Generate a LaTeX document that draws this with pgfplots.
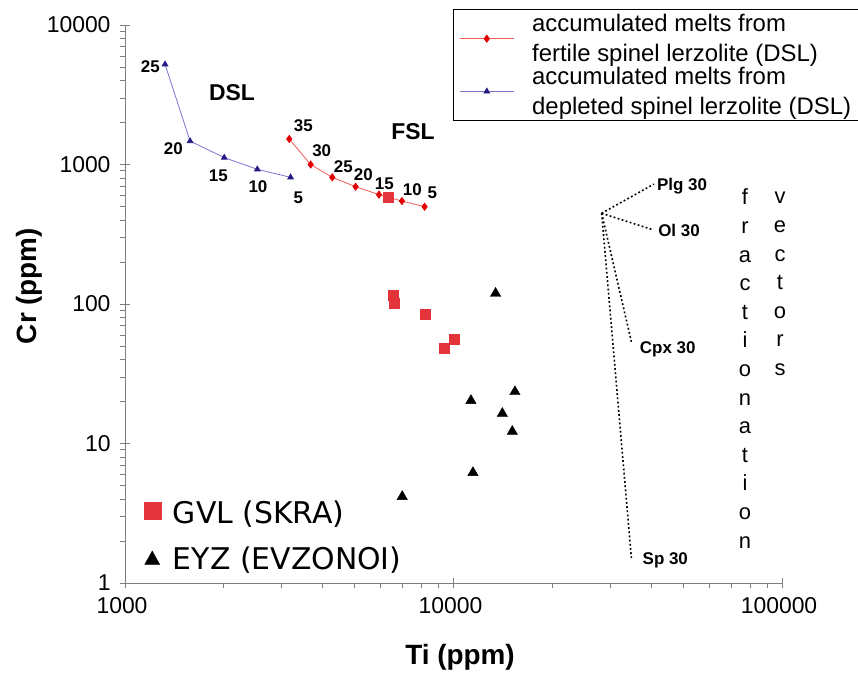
\documentclass[border=0pt]{standalone}
\usepackage{pgfplots}
\pgfplotsset{compat=1.18}
\usepackage{fontspec}
\setmainfont{Liberation Sans}
\newfontfamily\djv{DejaVu Sans}
\definecolor{fslred}{RGB}{228,0,0}
\definecolor{fslline}{RGB}{240,90,90}
\definecolor{dslblue}{RGB}{35,25,135}
\definecolor{dslline}{RGB}{125,115,205}
\definecolor{gvlred}{RGB}{226,52,58}
\definecolor{axgray}{RGB}{125,125,125}
\begin{document}
\begin{tikzpicture}[x=1bp,y=1bp]
\path[use as bounding box] (-125,-92) rectangle (733,583);
\begin{axis}[
  at={(0,0)}, anchor=south west,
  scale only axis, width=657bp, height=558bp,
  xmode=log, ymode=log,
  xmin=1000, xmax=100000, ymin=1, ymax=10000,
  axis lines=left, axis line style={-, draw=axgray, line width=0.8bp},
  xtick={1000,10000,100000}, xticklabels={1000,10000,100000},
  minor xtick={2000,3000,4000,5000,6000,7000,8000,9000,20000,30000,40000,50000,60000,70000,80000,90000},
  ytick={1,10,100,1000,10000}, yticklabels={1,10,100,1000,10000},
  minor ytick={2,3,4,5,6,7,8,9,20,30,40,50,60,70,80,90,200,300,400,500,600,700,800,900,2000,3000,4000,5000,6000,7000,8000,9000},
  extra x ticks={1000,10000,100000}, extra x tick labels={},
  extra y ticks={1,10,100,1000,10000}, extra y tick labels={},
  extra tick style={tick align=inside, major tick length=5bp},
  tick align=outside, major tick length=5bp, minor tick length=5bp,
  every tick/.style={axgray, line width=0.8bp},
  tick label style={font=\fontsize{23}{27}\selectfont},
  xticklabel style={yshift=-6bp, xshift=-3bp},
  yticklabel style={xshift=-6bp},
  /pgf/number format/assume math mode=true,
  clip=false,
  legend cell align=left,
  legend style={at={(0.4992,1.0287)}, anchor=north west, draw=black, line width=0.8bp,
    font=\fontsize{24}{30}\selectfont, cells={align=left}, inner xsep=6bp, inner ysep=3bp, row sep=0pt, column sep=16bp},
  legend image code/.code={\draw[mark repeat=2,mark phase=2,#1] plot coordinates {(0bp,0bp) (27bp,0bp) (54bp,0bp)};},
]
\addplot[color=fslline, line width=0.8bp, mark=diamond*, mark size=3.5bp, mark options={fill=fslred, draw=fslred}] coordinates {
(3162,1524) (3674,1000) (4275,809) (5036,693) (5932,608) (6968,547) (8166,498)};
\addlegendentry{accumulated melts from\\fertile spinel lerzolite (DSL)}
\addplot[color=dslline, line width=0.8bp, mark=triangle*, mark size=3.2bp, mark options={fill=dslblue, draw=dslblue}] coordinates {
(1324,5224) (1578,1472) (2005,1120) (2528,924) (3192,809)};
\addlegendentry{accumulated melts from\\depleted spinel lerzolite (DSL)}
\addplot[black, line width=1.6bp, dash pattern=on 1.8bp off 2.4bp, forget plot] coordinates {(28250,447) (40740,724)};
\addplot[black, line width=1.6bp, dash pattern=on 1.8bp off 2.4bp, forget plot] coordinates {(28250,447) (40070,343)};
\addplot[black, line width=1.6bp, dash pattern=on 1.8bp off 2.4bp, forget plot] coordinates {(28250,447) (34840,52.9)};
\addplot[black, line width=1.6bp, dash pattern=on 1.8bp off 2.4bp, forget plot] coordinates {(28250,447) (34840,1.46)};
\end{axis}
\begin{axis}[
  at={(0,0)}, anchor=south west,
  scale only axis, width=657bp, height=558bp,
  xmode=log, ymode=log,
  xmin=1000, xmax=100000, ymin=1, ymax=10000,
  hide axis, clip=false,
  legend cell align=left,
  legend style={at={(0.0282,0.0222)}, anchor=south west, draw=none, fill=none,
    font=\djv\fontsize{30}{36}\selectfont, inner sep=0pt, outer sep=0pt,
    nodes={inner sep=0pt}, row sep=21bp, column sep=12bp},
]
\addplot[only marks, mark=square*, mark size=5bp, color=gvlred,
  legend image code/.code={\fill[gvlred] (-8.5bp,-6bp) rectangle (8.5bp,11bp);}] coordinates {
(6561,116) (6620,101) (8222,84.7) (10058,56) (9352,47.9) (6332,587)};
\addlegendentry{GVL (SKRA)}
\addplot[only marks, mark=triangle*, mark size=6bp, color=black,
  legend image code/.code={\fill[black] (-7.5bp,-6bp) -- (7.5bp,-6bp) -- (0bp,7.5bp) -- cycle;}] coordinates {
(13430,119) (15380,23.5) (11300,20.3) (14080,16.4) (15100,12.2) (11460,6.18) (6980,4.16)};
\addlegendentry{EYZ (EVZONOI)}
\end{axis}
% axis titles
\node[rotate=90, font=\bfseries\fontsize{28}{32}\selectfont] at (-96,297) {Cr (ppm)};
\node[font=\bfseries\fontsize{28}{32}\selectfont] at (335,-74) {Ti (ppm)};
% curve names
\node[font=\bfseries\fontsize{23}{27}\selectfont] at (107,490) {DSL};
\node[font=\bfseries\fontsize{23}{27}\selectfont] at (288,451) {FSL};
% melting degree labels
\begin{scope}[every node/.style={font=\bfseries\fontsize{17}{20}\selectfont, inner sep=0pt}]
\node at (25.3,516.3) {25};
\node at (48.3,434.7) {20};
\node at (93.3,407.3) {15};
\node at (133,396) {10};
\node at (173.3,385.3) {5};
\node at (178.3,457.3) {35};
\node at (196.7,432.3) {30};
\node at (218.3,416.3) {25};
\node at (238.3,408) {20};
\node at (259.3,399.7) {15};
\node at (287.3,393.7) {10};
\node at (307.3,390) {5};
\node at (557,396.7) {Plg 30};
\node at (554,353) {Ol 30};
\node at (542.7,233.3) {Cpx 30};
\node at (540.3,22.7) {Sp 30};
\end{scope}
\foreach \l [count=\i from 0] in {f,r,a,c,t,i,o,n,a,t,i,o,n}
  \node[anchor=base, inner sep=0pt, font=\fontsize{22}{26}\selectfont] at (620,378-28.6*\i) {\l};
\foreach \l [count=\i from 0] in {v,e,c,t,o,r,s}
  \node[anchor=base, inner sep=0pt, font=\fontsize{22}{26}\selectfont] at (655,379-28.6*\i) {\l};
\end{tikzpicture}
\end{document}
